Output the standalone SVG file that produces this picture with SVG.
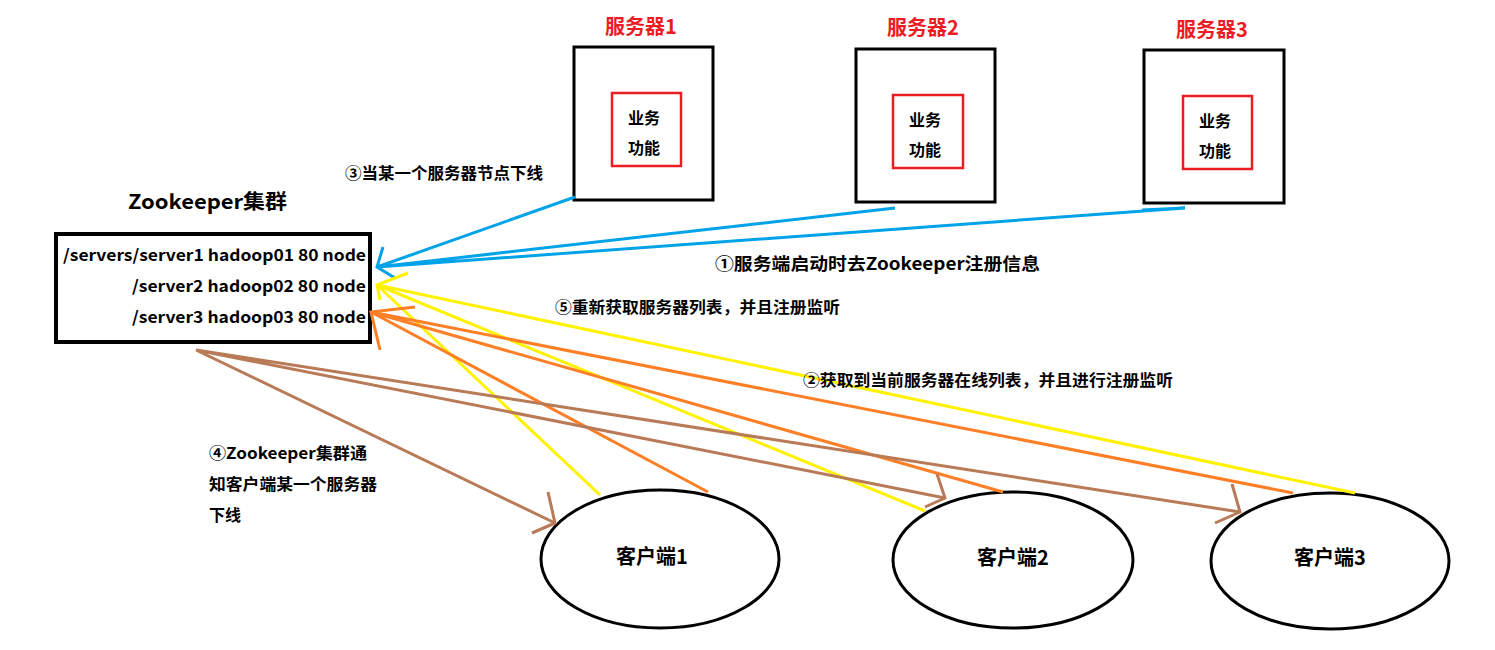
<svg xmlns="http://www.w3.org/2000/svg" width="1495" height="650" viewBox="0 0 1495 650">
<style>
text{font-family:"Noto Sans CJK SC","Noto Sans",sans-serif;font-weight:bold;fill:#000}
.t14{font-size:16px}
.t16{font-size:16px}
.t17{font-size:17px}
.t20{font-size:20px}
.red{fill:#ed1c24}
.box{fill:#fff;stroke:#000;stroke-width:3}
.inner{fill:none;stroke:#ed1c24;stroke-width:2.5}
.ell{fill:#fff;stroke:#000;stroke-width:3}
.blue{stroke:#00a2e8;stroke-width:3;fill:none}
.yel{stroke:#fff200;stroke-width:3;fill:none}
.org{stroke:#ff7f27;stroke-width:3;fill:none}
.brn{stroke:#b97a57;stroke-width:3;fill:none}
</style>
<rect width="1495" height="650" fill="#fff"/>

<g id="zookeeper">
<text class="t20" x="128" y="209" textLength="159" lengthAdjust="spacingAndGlyphs">Zookeeper集群</text>
<rect x="56" y="234" width="314" height="108" fill="#fff" stroke="#000" stroke-width="4"/>
<text class="t16" x="366" y="261" text-anchor="end" textLength="303" lengthAdjust="spacingAndGlyphs">/servers/server1 hadoop01 80 node</text>
<text class="t16" x="366" y="292" text-anchor="end" textLength="234" lengthAdjust="spacingAndGlyphs">/server2 hadoop02 80 node</text>
<text class="t16" x="366" y="323" text-anchor="end" textLength="234" lengthAdjust="spacingAndGlyphs">/server3 hadoop03 80 node</text>
</g>

<g id="server1">
<text class="t20 red" x="641" y="34" text-anchor="middle">服务器1</text>
<rect class="box" x="574" y="47" width="139" height="153"/>
<rect class="inner" x="612" y="93" width="69" height="73"/>
<text class="t16" x="644" y="124" text-anchor="middle">业务</text>
<text class="t16" x="644" y="154" text-anchor="middle">功能</text>
</g>

<g id="server2">
<text class="t20 red" x="923" y="35" text-anchor="middle">服务器2</text>
<rect class="box" x="856" y="49" width="139" height="153"/>
<rect class="inner" x="893" y="95" width="70" height="73"/>
<text class="t16" x="925" y="126" text-anchor="middle">业务</text>
<text class="t16" x="925" y="156" text-anchor="middle">功能</text>
</g>

<g id="server3">
<text class="t20 red" x="1212" y="37" text-anchor="middle">服务器3</text>
<rect class="box" x="1144" y="50" width="140" height="153"/>
<rect class="inner" x="1183" y="96" width="69" height="73"/>
<text class="t16" x="1215" y="127" text-anchor="middle">业务</text>
<text class="t16" x="1215" y="157" text-anchor="middle">功能</text>
</g>

<g id="client1">
<ellipse class="ell" cx="660" cy="559" rx="119" ry="69"/>
<text class="t20" x="652" y="564" text-anchor="middle">客户端1</text>
</g>
<g id="client2">
<ellipse class="ell" cx="1013" cy="560" rx="120" ry="68"/>
<text class="t20" x="1013" y="565" text-anchor="middle">客户端2</text>
</g>
<g id="client3">
<ellipse class="ell" cx="1330" cy="561" rx="119" ry="68"/>
<text class="t20" x="1330" y="565" text-anchor="middle">客户端3</text>
</g>

<g id="connectors">
<path class="blue" d="M575,197 L377,267 M895,208 L377,267 M1185,208 L377,267 M1142,210 L1185,208"/>
<path class="blue" d="M383,247 L377,267 L395,278"/>
<path class="yel" d="M600,495 L377,285 M925,511 L377,285 M1355,493 L377,285"/>
<path class="yel" d="M408,273 L377,285 L380,300"/>
<path class="org" d="M708,492 L371,312 M1003,492 L371,312 M1293,493 L371,312"/>
<path class="org" d="M415,307 L371,312 L380,350"/>
<path class="brn" d="M196,350 L555,523 M196,350 L945,498 M196,350 L1240,512"/>
<path class="brn" d="M548,492 L555,523 L532,533"/>
<path class="brn" d="M937,474 L945,498 L925,507"/>
<path class="brn" d="M1232,484 L1240,512 L1215,523"/>
</g>

<g id="labels">
<text class="t14" x="345" y="179" textLength="198" lengthAdjust="spacingAndGlyphs">③当某一个服务器节点下线</text>
<text class="t17" x="715" y="270" textLength="325" lengthAdjust="spacingAndGlyphs">①服务端启动时去Zookeeper注册信息</text>
<text class="t14" x="555" y="313" textLength="285" lengthAdjust="spacingAndGlyphs">⑤重新获取服务器列表，并且注册监听</text>
<text class="t14" x="803" y="386" textLength="370" lengthAdjust="spacingAndGlyphs">②获取到当前服务器在线列表，并且进行注册监听</text>
<text class="t14" x="209" y="459" textLength="158" lengthAdjust="spacingAndGlyphs">④Zookeeper集群通</text>
<text class="t14" x="209" y="490" textLength="168" lengthAdjust="spacingAndGlyphs">知客户端某一个服务器</text>
<text class="t14" x="209" y="521">下线</text>
</g>
</svg>
